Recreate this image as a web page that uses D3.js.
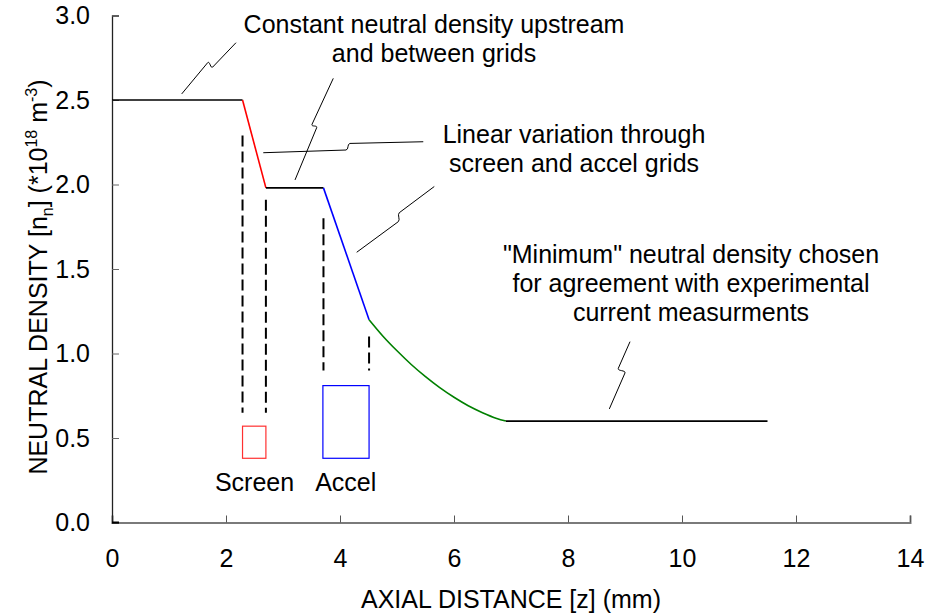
<!DOCTYPE html>
<html>
<head>
<meta charset="utf-8">
<title>Neutral density</title>
<script src="https://cdn.jsdelivr.net/npm/d3@7"></script>
<style>
body { margin: 0; background: #fff; }
svg { font-family: "Liberation Sans", Arial, sans-serif; }
.tick text { font-size: 25px; fill: #000; }
.note { font-size: 25px; fill: #000; text-anchor: middle; }
</style>
</head>
<body>
<script>
// density profile pieces, z in mm, n in 1e18 m^-3
var upstreamZ = [0, 2.29], upstreamN = [2.5, 2.5];
var screenZ = [2.29, 2.70], screenN = [2.5, 1.98];
var gapZ = [2.70, 3.71], gapN = [1.98, 1.98];
var accelZ = [3.71, 4.51], accelN = [1.98, 1.20];
var decayZ = [4.51, 4.75, 5.0, 5.25, 5.5, 5.75, 6.0, 6.25, 6.5, 6.75, 6.91];
var decayN = [1.200, 1.104, 1.016, 0.935, 0.863, 0.798, 0.741, 0.691, 0.650, 0.616, 0.600];
var downstreamZ = [6.91, 11.5], downstreamN = [0.60, 0.60];

// grid boxes [z0, z1, n0, n1]
var screenBox = [2.29, 2.70, 0.38, 0.57];
var accelBox = [3.70, 4.51, 0.38, 0.81];

// dashed guides [z, nTop, nBottom]
var guideZ = [2.29, 2.70, 3.71, 4.51];
var guideTop = [2.29, 1.91, 1.80, 1.10];
var guideBottom = [0.65, 0.65, 0.90, 0.90];

var xTicks = [0, 2, 4, 6, 8, 10, 12, 14];
var yTicks = [0, 0.5, 1.0, 1.5, 2.0, 2.5, 3.0];

// leader lines: start, end of first leg, start of second leg, end
var leaders = [
  [[1.223, 2.536], [1.679, 2.721], [1.767, 2.695], [2.175, 2.839]],
  [[3.211, 2.027], [3.591, 2.336], [3.509, 2.356], [3.882, 2.628]],
  [[2.654, 2.188], [4.105, 2.204], [4.175, 2.243], [5.461, 2.253]],
  [[4.293, 1.599], [5.023, 1.780], [5.040, 1.833], [5.654, 1.988]],
  [[8.725, 0.672], [9.000, 0.885], [8.882, 0.912], [9.088, 1.070]]
];

var w = 928, h = 616;
var margin = {top: 15.5, right: 18, bottom: 93.5, left: 112};

var svg = d3.select("body").append("svg")
  .attr("width", w)
  .attr("height", h);

var x = d3.scaleLinear().domain([0, 14]).range([margin.left, w - margin.right]);
var y = d3.scaleLinear().domain([0, 3]).range([h - margin.bottom, margin.top]);

// axes
var xAxis = svg.append("g")
  .attr("transform", "translate(0," + y(0) + ")")
  .call(d3.axisBottom(x).tickValues(xTicks).tickSize(-7).tickPadding(19).tickFormat(d3.format("d")));
xAxis.select(".domain").attr("stroke", "#7a7a7a").attr("stroke-width", 2);
xAxis.selectAll(".tick line").attr("stroke", "#555");
xAxis.selectAll(".tick text").attr("dy", "1.0em");

var yAxis = svg.append("g")
  .attr("transform", "translate(" + x(0) + ",0)")
  .call(d3.axisLeft(y).tickValues(yTicks).tickSize(-7).tickPadding(22).tickFormat(d3.format(".1f")));
yAxis.select(".domain").attr("stroke", "#222").attr("stroke-width", 1.3);
yAxis.selectAll(".tick line").attr("stroke", "#666");

svg.append("line")
  .attr("x1", x(0)).attr("x2", x(0) + 7)
  .attr("y1", y(0)).attr("y2", y(0))
  .attr("stroke", "#000").attr("stroke-width", 2);

// axis titles
svg.append("text")
  .attr("x", (x(0) + x(14)) / 2)
  .attr("y", 608)
  .attr("text-anchor", "middle")
  .style("font-size", "25px")
  .text("AXIAL DISTANCE [z] (mm)");

var yt = svg.append("text")
  .attr("transform", "translate(47,277) rotate(-90)")
  .attr("text-anchor", "middle")
  .style("font-size", "25px");
yt.append("tspan").text("NEUTRAL DENSITY [n");
yt.append("tspan").attr("dy", 6).style("font-size", "16px").text("n");
yt.append("tspan").attr("dy", -6).text("] (*10");
yt.append("tspan").attr("dy", -10).style("font-size", "16px").text("18");
yt.append("tspan").attr("dy", 10).text(" m");
yt.append("tspan").attr("dy", -10).style("font-size", "16px").text("-3");
yt.append("tspan").attr("dy", 10).text(")");

// density profile
var line = d3.line()
  .x(function(d){ return x(d[0]); })
  .y(function(d){ return y(d[1]); })
  .curve(d3.curveMonotoneX);
var pieces = [
  [upstreamZ, upstreamN, "#000"],
  [screenZ, screenN, "#ff0000"],
  [gapZ, gapN, "#000"],
  [accelZ, accelN, "#0000ff"],
  [decayZ, decayN, "#008000"],
  [downstreamZ, downstreamN, "#000"]
];
svg.append("g").selectAll("path")
  .data(pieces)
  .enter()
  .append("path")
  .attr("d", function(p){ return line(d3.zip(p[0], p[1])); })
  .attr("fill", "none")
  .attr("stroke", function(p){ return p[2]; })
  .attr("stroke-width", 1.6);

// dashed guides
svg.append("g").selectAll("line")
  .data(guideZ)
  .enter()
  .append("line")
  .attr("x1", function(d){ return x(d); })
  .attr("x2", function(d){ return x(d); })
  .attr("y1", function(d, i){ return y(guideTop[i]); })
  .attr("y2", function(d, i){ return y(guideBottom[i]); })
  .attr("stroke", "#000")
  .attr("stroke-width", 2)
  .attr("stroke-dasharray", "11,5");

// grid boxes
[[screenBox, "#ff3030"], [accelBox, "#0000ff"]].forEach(function(b){
  var r = b[0];
  svg.append("rect")
    .attr("x", x(r[0]))
    .attr("y", y(r[3]))
    .attr("width", x(r[1]) - x(r[0]))
    .attr("height", y(r[2]) - y(r[3]))
    .attr("fill", "none")
    .attr("stroke", b[1])
    .attr("stroke-width", 1.2);
});

svg.append("text").attr("class", "note").attr("x", x(2.50)).attr("y", 491).text("Screen");
svg.append("text").attr("class", "note").attr("x", x(4.10)).attr("y", 491).text("Accel");

// leader lines with a small break jog
function leaderPath(pts){
  var p = pts.map(function(d){ return [x(d[0]), y(d[1])]; });
  var dx = p[3][0] - p[0][0], dy = p[3][1] - p[0][1];
  var len = Math.sqrt(dx * dx + dy * dy);
  var ux = dx / len * 3, uy = dy / len * 3;
  var path = d3.path();
  path.moveTo(p[0][0], p[0][1]);
  path.lineTo(p[1][0], p[1][1]);
  path.bezierCurveTo(p[1][0] + ux, p[1][1] + uy, p[2][0] - ux, p[2][1] - uy, p[2][0], p[2][1]);
  path.lineTo(p[3][0], p[3][1]);
  return path.toString();
}
svg.append("g").selectAll("path")
  .data(leaders)
  .enter()
  .append("path")
  .attr("d", leaderPath)
  .attr("fill", "none")
  .attr("stroke", "#000")
  .attr("stroke-width", 1);

// notes
function note(lines, cx, y0, step){
  var t = svg.append("text").attr("class", "note");
  lines.forEach(function(s, i){
    t.append("tspan").attr("x", cx).attr("y", y0 + i * step).text(s);
  });
}
note(["Constant neutral density upstream", "and between grids"], 434, 33, 29);
note(["Linear variation through", "screen and accel grids"], 574, 143, 29);
note(["\"Minimum\" neutral density chosen", "for agreement with experimental", "current measurments"], 691, 263, 29);
</script>
</body>
</html>
